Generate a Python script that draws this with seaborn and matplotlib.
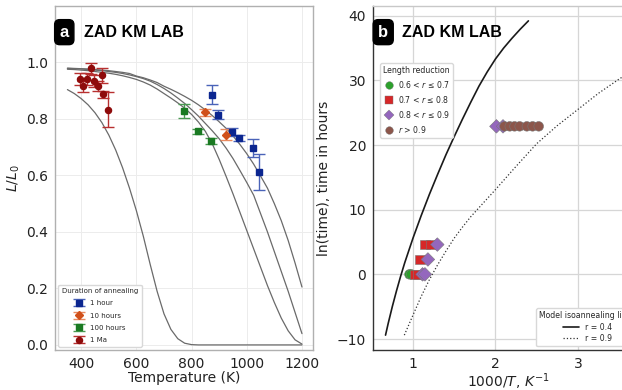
import matplotlib
matplotlib.use("Agg")
import matplotlib.pyplot as plt
import seaborn as sns
import pandas as pd
from matplotlib.lines import Line2D

# ---------------- Panel a data ----------------
curve_T = [350, 375, 400, 425, 450, 475, 500, 525, 550, 575, 600, 625, 650, 675, 700,
           725, 750, 775, 800, 825, 850, 875, 900, 925, 950, 975, 1000, 1025, 1050,
           1075, 1100, 1125, 1150, 1175, 1200]
curve_1ma = [0.904, 0.89, 0.872, 0.85, 0.822, 0.787, 0.743, 0.69, 0.627, 0.555, 0.475,
             0.385, 0.285, 0.19, 0.11, 0.055, 0.022, 0.006, 0.001, 0.0, 0.0, 0.0, 0.0,
             0.0, 0.0, 0.0, 0.0, 0.0, 0.0, 0.0, 0.0, 0.0, 0.0, 0.0, 0.0]
curve_100h = [0.976, 0.975, 0.973, 0.971, 0.968, 0.965, 0.962, 0.958, 0.953, 0.947, 0.94,
              0.931, 0.92, 0.906, 0.89, 0.874, 0.857, 0.838, 0.816, 0.789, 0.756, 0.712,
              0.657, 0.597, 0.535, 0.47, 0.405, 0.34, 0.275, 0.21, 0.15, 0.095, 0.05,
              0.018, 0.003]
curve_10h = [0.979, 0.978, 0.977, 0.975, 0.973, 0.971, 0.968, 0.965, 0.961, 0.956, 0.95,
             0.943, 0.934, 0.922, 0.908, 0.892, 0.874, 0.855, 0.833, 0.81, 0.784, 0.758,
             0.73, 0.697, 0.66, 0.618, 0.575, 0.53, 0.465, 0.4, 0.33, 0.26, 0.19, 0.115,
             0.04]
curve_1h = [0.98, 0.979, 0.978, 0.977, 0.975, 0.973, 0.971, 0.968, 0.965, 0.961, 0.952,
            0.946, 0.938, 0.929, 0.916, 0.905, 0.893, 0.88, 0.866, 0.85, 0.832, 0.812,
            0.79, 0.767, 0.74, 0.71, 0.677, 0.64, 0.598, 0.555, 0.5, 0.44, 0.37, 0.29,
            0.205]

h1_T = [873, 896, 948, 972, 1022, 1046]
h1_v = [0.886, 0.815, 0.753, 0.733, 0.697, 0.612]
h1_err = [0.034, 0.016, 0.015, 0.01, 0.032, 0.063]

h10_T = [847, 923]
h10_v = [0.824, 0.744]
h10_err = [0.012, 0.02]

h100_T = [772, 823, 872]
h100_v = [0.827, 0.756, 0.721]
h100_err = [0.025, 0.008, 0.01]

ma_T = [396, 408, 420, 436, 448, 460, 474, 478, 497]
ma_v = [0.942, 0.916, 0.942, 0.979, 0.934, 0.916, 0.954, 0.888, 0.833]
ma_err = [0.02, 0.02, 0.022, 0.02, 0.02, 0.018, 0.025, 0.012, 0.063]

# ---------------- Panel b data ----------------
lnt_1h, lnt_10h, lnt_100h, lnt_1ma = 0.0, 2.303, 4.605, 22.89
b_x = [0.957, 0.978,
       1.026, 1.053, 1.083, 1.147, 1.215,
       1.116, 1.145, 1.181, 1.295, 2.012, 2.092,
       2.110, 2.174, 2.232, 2.294, 2.381, 2.451, 2.525]
b_y = [lnt_1h, lnt_1h,
       lnt_1h, lnt_1h, lnt_10h, lnt_100h, lnt_100h,
       lnt_1h, lnt_1h, lnt_10h, lnt_100h, lnt_1ma, lnt_1ma,
       lnt_1ma, lnt_1ma, lnt_1ma, lnt_1ma, lnt_1ma, lnt_1ma, lnt_1ma]
b_cls = ["c1"] * 2 + ["c2"] * 5 + ["c3"] * 6 + ["c4"] * 7
cls_labels = {"c1": "0.6 < $r$ \u2264 0.7", "c2": "0.7 < $r$ \u2264 0.8",
              "c3": "0.8 < $r$ \u2264 0.9", "c4": "$r$ > 0.9"}

line04_x = [0.667, 0.70, 0.75, 0.80, 0.85, 0.90, 1.00, 1.10, 1.20, 1.30, 1.40, 1.50,
            1.60, 1.70, 1.80, 1.90, 2.00, 2.10, 2.20, 2.30, 2.40]
line04_y = [-9.4, -7.55, -4.95, -2.55, -0.3, 1.8, 5.6, 9.1, 12.4, 15.5, 18.5, 21.3,
            24.0, 26.6, 29.1, 31.3, 33.3, 35.0, 36.5, 37.9, 39.2]
line09_x = [0.895, 1.0, 1.1, 1.2, 1.3, 1.4, 1.5, 1.6, 1.7, 1.8, 1.9, 2.0, 2.25, 2.5,
            2.75, 3.0, 3.25, 3.5, 3.7]
line09_y = [-9.4, -6.3, -3.4, -0.8, 1.5, 3.6, 5.6, 7.3, 8.9, 10.3, 11.7, 13.1, 16.7,
            20.2, 23.0, 25.5, 28.0, 30.2, 31.8]

# ---------------- Figure ----------------
sns.set_style("whitegrid")
plt.rcParams["font.family"] = ["DejaVu Sans"]
fig = plt.figure(figsize=(6.22, 3.9), dpi=100)
ax1 = fig.add_axes([55 / 622, 40 / 390, 258 / 622, 344 / 390])
ax2 = fig.add_axes([373 / 622, 40 / 390, 270 / 622, 344 / 390])

# Panel a curves
curves = pd.DataFrame({
    "T": curve_T * 4,
    "v": curve_1ma + curve_100h + curve_10h + curve_1h,
    "c": ["1ma"] * len(curve_T) + ["100h"] * len(curve_T) + ["10h"] * len(curve_T)
         + ["1h"] * len(curve_T),
})
sns.lineplot(data=curves, x="T", y="v", units="c", estimator=None, color="#6a6a6a",
             lw=0.9, ax=ax1, legend=False)

series = [
    (h1_T, h1_v, h1_err, "s", "#0b2690", "#4a63b8", "1 hour", 4.6),
    (h10_T, h10_v, h10_err, "D", "#d0501a", "#e88a60", "10 hours", 4.0),
    (h100_T, h100_v, h100_err, "s", "#1a7a22", "#4a9a52", "100 hours", 4.2),
    (ma_T, ma_v, ma_err, "o", "#8e0b0b", "#b83030", "1 Ma", 4.4),
]
handles = []
for T, v, e, mk, mc, ec, lab, ms in series:
    h = ax1.errorbar(T, v, yerr=e, fmt=mk, color=mc, ecolor=ec, elinewidth=1.0,
                     capsize=4, capthick=1.0, ms=ms, mec=mc, label=lab, zorder=3)
    handles.append(h)

ax1.set_xlim(305, 1240)
ax1.set_ylim(-0.018, 1.2)
ax1.set_xticks([400, 600, 800, 1000, 1200])
ax1.set_yticks([0.0, 0.2, 0.4, 0.6, 0.8, 1.0])
ax1.set_yticklabels(["0.0", "0.2", "0.4", "0.6", "0.8", "1.0"])
ax1.set_xlabel("Temperature (K)", fontsize=10, color="#222", labelpad=0)
ax1.set_ylabel("$L/L_0$", fontsize=10, color="#222", labelpad=3)
ax1.grid(True, color="#ececec", lw=0.7)
for s in ax1.spines.values():
    s.set_color("#b0b0b0")
    s.set_linewidth(1.0)
ax1.tick_params(axis="both", labelsize=10, length=3, width=0.8, color="#555",
                labelcolor="#222", pad=2)
leg1 = ax1.legend(handles=handles, loc="lower left", title="Duration of annealing",
                  fontsize=5, title_fontsize=5, frameon=True, framealpha=1,
                  borderpad=0.5, labelspacing=0.9, handlelength=1.3,
                  handletextpad=0.9)
leg1.get_frame().set_edgecolor("#d8d8d8")

badge_font = ["Liberation Sans", "DejaVu Sans"]
ax1.text(0.018, 0.924, "a", transform=ax1.transAxes, color="white", fontsize=12,
         fontweight="bold", va="center", ha="left", family=badge_font,
         bbox=dict(boxstyle="round,pad=0.3", fc="black", ec="black"))
ax1.text(0.112, 0.924, "ZAD KM LAB", transform=ax1.transAxes, color="black",
         fontsize=11.5, fontweight="bold", va="center", ha="left", family=badge_font)

# Panel b
sns.lineplot(x=line04_x, y=line04_y, color="#1a1a1a", lw=1.2, ax=ax2, sort=False,
             estimator=None)
sns.lineplot(x=line09_x, y=line09_y, color="#333333", lw=0.9, ls=":", ax=ax2,
             sort=False, estimator=None)

dfb = pd.DataFrame({"x": b_x, "y": b_y, "cls": b_cls})
palette = {"c1": "#2ca02c", "c2": "#d62728", "c3": "#9467bd", "c4": "#8c564b"}
markers = {"c1": "o", "c2": "s", "c3": "D", "c4": "o"}
sns.scatterplot(data=dfb, x="x", y="y", hue="cls", style="cls", palette=palette,
                markers=markers, hue_order=["c1", "c2", "c3", "c4"], s=48,
                edgecolor="#777777", linewidth=0.4, ax=ax2, legend=False, zorder=3)

mhandles = [Line2D([], [], ls="none", marker=markers[k], color=palette[k], ms=5.5,
                   mec="#777777", mew=0.3, label=cls_labels[k])
            for k in ["c1", "c2", "c3", "c4"]]
leg2 = ax2.legend(handles=mhandles, loc="upper left", bbox_to_anchor=(0.012, 0.845),
                  title="Length reduction", fontsize=5.6, title_fontsize=5.6,
                  frameon=True, framealpha=1, borderpad=0.4, labelspacing=0.5,
                  handletextpad=0.3, handlelength=1.6)
leg2.get_frame().set_edgecolor("#d8d8d8")
ax2.add_artist(leg2)

lhandles = [Line2D([], [], color="#1a1a1a", lw=1.2, label="r = 0.4"),
            Line2D([], [], color="#333333", lw=0.9, ls=":", label="r = 0.9")]
leg3 = ax2.legend(handles=lhandles, loc="lower right", title="Model isoannealing lines",
                  fontsize=5.6, title_fontsize=5.6, frameon=True, framealpha=1,
                  borderpad=0.4, labelspacing=0.3, handlelength=2.0)
leg3.get_frame().set_edgecolor("#d8d8d8")

ax2.set_xlim(0.515, 3.79)
ax2.set_ylim(-11.7, 41.5)
ax2.set_xticks([1, 2, 3])
ax2.set_yticks([-10, 0, 10, 20, 30, 40])
ax2.set_yticklabels(["\u221210", "0", "10", "20", "30", "40"])
ax2.set_xlabel("1000/$T$, $K^{-1}$", fontsize=10, color="#222", labelpad=0)
ax2.set_ylabel("ln(time), time in hours", fontsize=10, color="#222", labelpad=4)
ax2.grid(True, color="#d6d6d6", lw=0.9)
ax2.spines["left"].set_color("#333333")
ax2.spines["bottom"].set_color("#333333")
ax2.spines["top"].set_color("#c8c8c8")
ax2.spines["right"].set_color("#c8c8c8")
for s in ax2.spines.values():
    s.set_linewidth(1.0)
ax2.tick_params(axis="both", labelsize=10, length=3, width=0.8, color="#333",
                labelcolor="#222", pad=2)

ax2.text(0.019, 0.924, "b", transform=ax2.transAxes, color="white", fontsize=12,
         fontweight="bold", va="center", ha="left", family=badge_font,
         bbox=dict(boxstyle="round,pad=0.3", fc="black", ec="black"))
ax2.text(0.107, 0.924, "ZAD KM LAB", transform=ax2.transAxes, color="black",
         fontsize=11.5, fontweight="bold", va="center", ha="left", family=badge_font)

fig.savefig("out.png", dpi=100)
